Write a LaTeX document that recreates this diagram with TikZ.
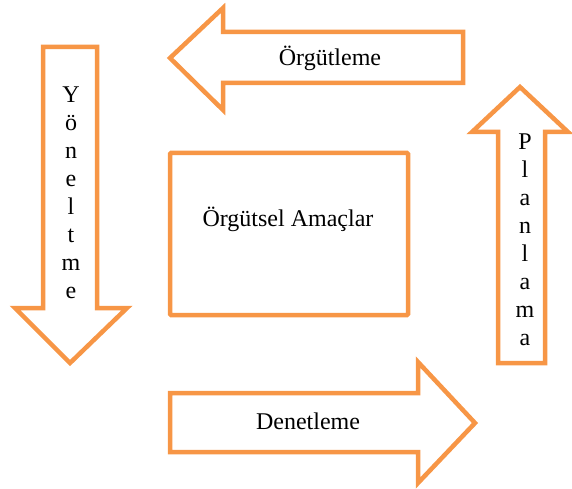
\documentclass[tikz,border=0pt]{standalone}
\usepackage{fontspec}
\setmainfont{Liberation Serif}
\usetikzlibrary{positioning}
\definecolor{dOrange}{RGB}{247,150,70}
\tikzset{
  blk/.style={draw=dOrange, line width=4.5pt, line join=miter, fill=white},
  lbl/.style={font=\fontsize{24}{28}\selectfont, inner sep=0pt, text=black},
  col/.style={lbl, align=center},
}

\begin{document}
\begin{tikzpicture}[x=1pt, y=-1pt]
  \useasboundingbox (0,0) rectangle (572,489);

  % top arrow, pointing left
  \draw[blk] (170,58) -- (223,8) -- (223,32) -- (463,32) -- (463,83)
             -- (223,83) -- (223,110) -- cycle;
  \node[lbl] (org) at (330,58) {Örgütleme};

  % left arrow, pointing down
  \draw[blk] (43,47) -- (97,47) -- (97,308) -- (127,308) -- (70,363)
             -- (15,308) -- (43,308) -- cycle;
  \node[col] (yon) at (71,193) {Y\\ö\\n\\e\\l\\t\\m\\e};

  % right arrow, pointing up
  \draw[blk] (520,87) -- (568,132) -- (545,132) -- (545,363) -- (498,363)
             -- (498,132) -- (472,132) -- cycle;
  \node[col] (plan) at (525,240) {P\\l\\a\\n\\l\\a\\m\\a};

  % bottom arrow, pointing right
  \draw[blk] (170,393) -- (418,393) -- (418,362) -- (475,423) -- (418,483)
             -- (418,452) -- (170,452) -- cycle;
  \node[lbl] (den) at (308,421) {Denetleme};

  % centre box
  \draw[blk, rounded corners=1pt] (170,153) rectangle (408,315);
  \node[lbl] (amac) at (288,219) {Örgütsel Amaçlar};
\end{tikzpicture}
\end{document}
